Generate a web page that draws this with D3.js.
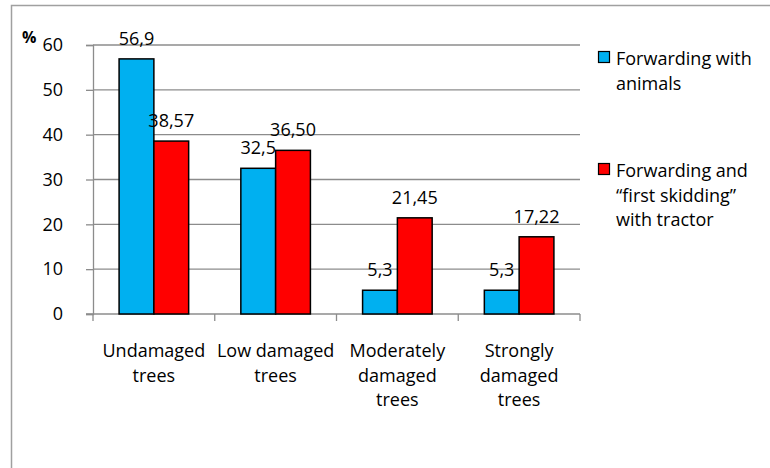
<!DOCTYPE html>
<html>
<head>
<meta charset="utf-8">
<script src="https://cdn.jsdelivr.net/npm/d3@7"></script>
<style>
  html, body { margin: 0; padding: 0; background: #fff; }
  svg { display: block; }
  text { font-family: "Open Sans", "Noto Sans", sans-serif; fill: #000; }
</style>
</head>
<body>
<svg id="chart" width="770" height="468"></svg>
<script>
// Damage classes of the remaining trees
const categories = ["Undamaged trees", "Low damaged trees", "Moderately damaged trees", "Strongly damaged trees"];
const categoryLines = [["Undamaged", "trees"], ["Low damaged", "trees"], ["Moderately", "damaged", "trees"], ["Strongly", "damaged", "trees"]];
const seriesNames = ["Forwarding with animals", "Forwarding and “first skidding” with tractor"];
const legendLines = [["Forwarding with", "animals"], ["Forwarding and", "“first skidding”", "with tractor"]];
const animals = [56.9, 32.5, 5.3, 5.3];
const tractor = [38.57, 36.50, 21.45, 17.22];
const decimals = [1, 2];
const yTicks = [0, 10, 20, 30, 40, 50, 60];
const colors = ["#00b0f0", "#ff0000"];

const series = [animals, tractor];
const svg = d3.select("#chart");
const fontFamily = "'Open Sans', 'Noto Sans', sans-serif";
const fontSize = 18;

// outer frame
svg.append("path")
  .attr("d", "M11.5,468 L11.5,5.5 L770,5.5")
  .attr("fill", "none").attr("stroke", "#a0a0a0").attr("stroke-width", 1.5);

const plot = { left: 93, right: 580, top: 45, bottom: 314 };

const x = d3.scaleBand().domain(categories).range([plot.left, plot.right]).paddingInner(0).paddingOuter(0);
const gap = 1.5; // gap width relative to one bar
const barW = x.bandwidth() / (series.length + gap);
const xs = d3.scaleBand().domain(d3.range(series.length))
  .range([x.bandwidth() * gap / (2 * (series.length + gap)), x.bandwidth() - x.bandwidth() * gap / (2 * (series.length + gap))]);
const y = d3.scaleLinear().domain([0, 60]).range([plot.bottom, plot.top]);

// horizontal gridlines
svg.append("g").selectAll("line").data(yTicks.filter(d => d > 0)).join("line")
  .attr("x1", plot.left).attr("x2", plot.right)
  .attr("y1", d => y(d)).attr("y2", d => y(d))
  .attr("stroke", "#8c8c8c").attr("stroke-width", 1.3);

// y axis
const yAxis = svg.append("g").attr("transform", `translate(${plot.left},0)`)
  .call(d3.axisLeft(y).tickValues(yTicks).tickSize(7).tickPadding(23).tickFormat(d3.format("d")));
yAxis.select(".domain").attr("stroke", "#8c8c8c").attr("stroke-width", 1.3);
yAxis.selectAll(".tick line").attr("stroke", "#8c8c8c").attr("stroke-width", 1.3);
yAxis.selectAll(".tick text").attr("font-size", fontSize).attr("font-family", fontFamily).attr("fill", "#000");

// x axis with ticks at category boundaries
const boundaries = categories.map(c => x(c)).concat([plot.right]);
svg.append("line").attr("x1", plot.left - 7).attr("x2", plot.right)
  .attr("y1", plot.bottom).attr("y2", plot.bottom)
  .attr("stroke", "#8c8c8c").attr("stroke-width", 1.3);
svg.append("g").selectAll("line").data(boundaries).join("line")
  .attr("x1", d => d).attr("x2", d => d)
  .attr("y1", plot.bottom).attr("y2", plot.bottom + 7)
  .attr("stroke", "#8c8c8c").attr("stroke-width", 1.3);

// bars
const groups = svg.append("g").selectAll("g").data(series).join("g");
groups.selectAll("rect").data((s, si) => s.map((v, i) => ({ v, i, si }))).join("rect")
  .attr("x", d => x(categories[d.i]) + xs(d.si))
  .attr("width", barW)
  .attr("y", d => y(d.v))
  .attr("height", d => y(0) - y(d.v))
  .attr("fill", d => colors[d.si])
  .attr("stroke", "#000").attr("stroke-width", 1.5);

// value labels
groups.selectAll("text").data((s, si) => s.map((v, i) => ({ v, i, si }))).join("text")
  .attr("x", d => x(categories[d.i]) + xs(d.si) + barW / 2)
  .attr("y", d => y(d.v) - 14)
  .attr("text-anchor", "middle")
  .attr("font-size", fontSize)
  .text(d => d.v.toFixed(decimals[d.si]).replace(".", ","));

// category labels
const catG = svg.append("g").selectAll("text").data(categories).join("text")
  .attr("text-anchor", "middle")
  .attr("font-size", fontSize);
catG.selectAll("tspan").data((c, i) => categoryLines[i].map(t => ({ t, c }))).join("tspan")
  .attr("x", d => x(d.c) + x.bandwidth() / 2)
  .attr("y", (d, j) => 357 + j * 24.5)
  .text(d => d.t);

// axis unit
svg.append("text").attr("x", 22).attr("y", 43).attr("font-size", 16).attr("font-weight", "bold").text("%");

// legend
const legendY = [51, 163];
const leg = svg.append("g").selectAll("g").data(seriesNames).join("g");
leg.append("rect")
  .attr("x", 598.5).attr("y", (d, i) => legendY[i] + 0.5)
  .attr("width", 11).attr("height", 11)
  .attr("fill", (d, i) => colors[i]).attr("stroke", "#000").attr("stroke-width", 1.2);
const legText = leg.append("text").attr("font-size", fontSize);
legText.selectAll("tspan").data((d, i) => legendLines[i].map(t => ({ t, i }))).join("tspan")
  .attr("x", 616)
  .attr("y", (d, j) => legendY[d.i] + 14 + j * 24.5)
  .text(d => d.t);
</script>
</body>
</html>
